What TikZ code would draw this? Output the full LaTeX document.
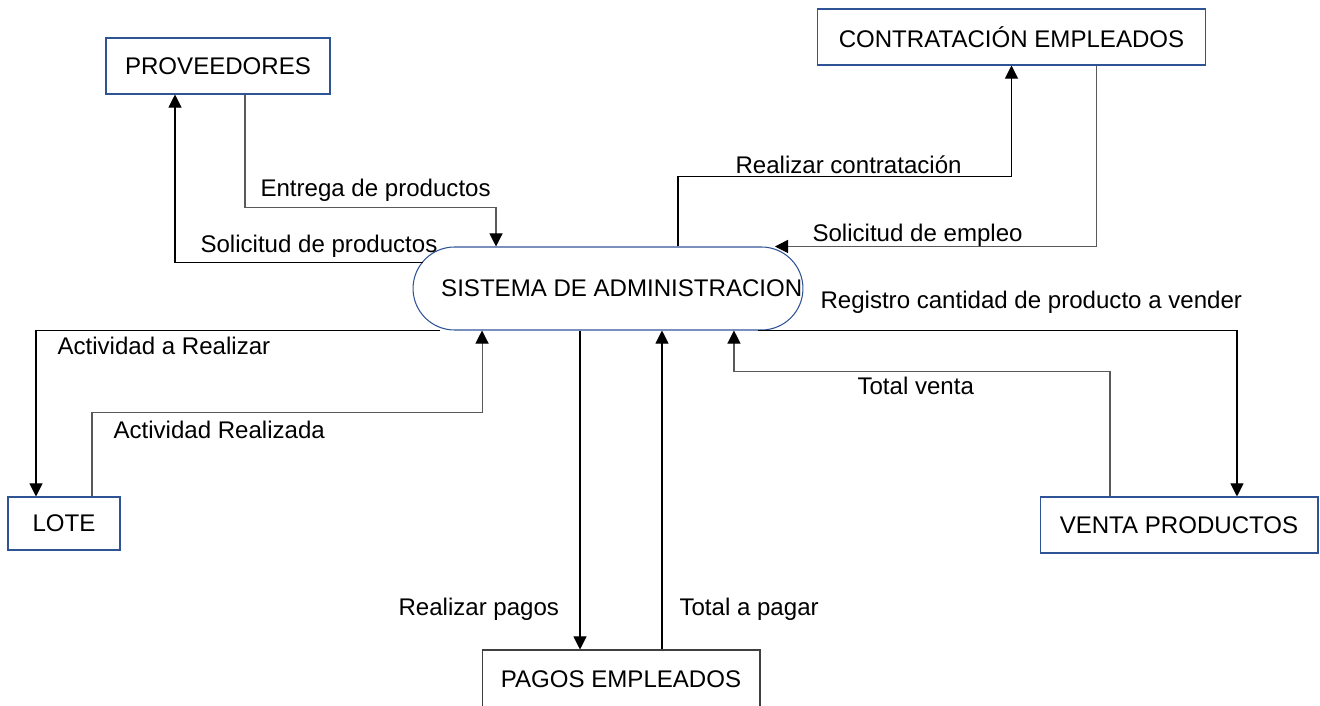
\documentclass[tikz,border=0pt]{standalone}
\usepackage{fontspec}
\setmainfont{Liberation Sans}
\usetikzlibrary{arrows.meta}
\definecolor{boxblue}{RGB}{47,84,150}

\begin{document}
\begin{tikzpicture}[x=0.02cm, y=-0.02cm, line width=0.6pt,
    every node/.style={font=\fontsize{13.7}{16}\selectfont},
    ent/.style={draw=boxblue, minimum height=1.12cm, inner sep=0pt},
    sys/.style={draw=boxblue, rounded corners=0.83cm, minimum width=7.8cm, minimum height=1.66cm, inner sep=0pt},
    flow/.style={-{Triangle[length=7.5pt, width=7.5pt, color=black]}},
    flowg/.style={flow, draw=black!65},
    lbl/.style={anchor=west, inner sep=0pt}]
    \path[use as bounding box, clip] (0,0) rectangle (1320,706);

    \node[ent, minimum width=4.48cm] (prov) at (218,66) {PROVEEDORES};
    \node[ent, minimum width=7.78cm] (contr) at (1011.5,37) {CONTRATACIÓN EMPLEADOS};
    \node[sys] (sis) at (608,288.5) {\hspace*{0.55cm}SISTEMA DE ADMINISTRACION};
    \node[ent, minimum width=2.24cm, minimum height=1.06cm] (lote) at (64,523.5) {LOTE};
    \node[ent, minimum width=5.56cm] (venta) at (1179,525) {VENTA PRODUCTOS};
    \node[ent, draw=black!75, minimum width=5.56cm, minimum height=1.16cm] (pagos) at (621,679) {PAGOS EMPLEADOS};

    \node[lbl] (lEntrega) at (260,190) {Entrega de productos};
    \node[lbl] (lSolProd) at (200,246) {Solicitud de productos};
    \node[lbl] (lContrat) at (735,165) {Realizar contratación};
    \node[lbl] (lSolEmp) at (812,235) {Solicitud de empleo};
    \node[lbl] (lRegistro) at (820,302) {Registro cantidad de producto a vender};
    \node[lbl] (lActRea) at (57,346) {Actividad a Realizar};
    \node[lbl] (lActDone) at (113,430) {Actividad Realizada};
    \node[lbl] (lTotVenta) at (857,386) {Total venta};
    \node[lbl] (lPagos) at (398,609) {Realizar pagos};
    \node[lbl] (lTotPagar) at (679,609) {Total a pagar};

    \draw[flowg] ([xshift=0.54cm]prov.south) -- ++(0,113) -| ([xshift=-2.24cm]sis.north);
    \draw[flow] ([xshift=0.2cm,yshift=0.52cm]sis.west) -| ([xshift=-0.86cm]prov.south);
    \draw[flow] ([xshift=1.4cm]sis.north) -- ++(0,-70) -| (contr.south);
    \draw[flowg] ([xshift=1.7cm]contr.south) |- ([xshift=3.34cm]sis.north);
    \draw[flow] ([xshift=-3.36cm]sis.south) -| ([xshift=-0.56cm]lote.north);
    \draw[flowg] ([xshift=0.56cm]lote.north) -- ++(0,-84) -| ([xshift=-2.52cm]sis.south);
    \draw[flow] ([xshift=-0.56cm]sis.south) -- ([xshift=-0.56cm]sis.south |- pagos.north);
    \draw[flow] ([xshift=0.82cm]pagos.north) -- ([xshift=0.82cm]pagos.north |- sis.south);
    \draw[flowg] ([xshift=-1.38cm]venta.north) -- ++(0,-125) -| ([xshift=2.52cm]sis.south);
    \draw[flow] ([xshift=3cm]sis.south) -| ([xshift=1.16cm]venta.north);
\end{tikzpicture}
\end{document}
